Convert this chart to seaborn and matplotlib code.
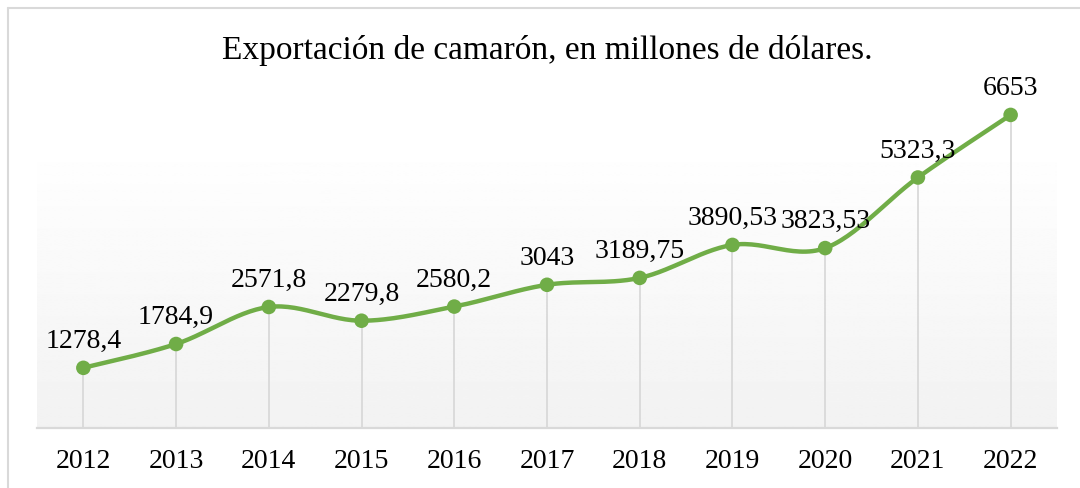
import seaborn as sns
import matplotlib.pyplot as plt
import numpy as np
from matplotlib.lines import Line2D

# data
years = ["2012", "2013", "2014", "2015", "2016", "2017", "2018", "2019", "2020", "2021", "2022"]
values = [1278.4, 1784.9, 2571.8, 2279.8, 2580.2, 3043, 3189.75, 3890.53, 3823.53, 5323.3, 6653]
labels = ["1278,4", "1784,9", "2571,8", "2279,8", "2580,2", "3043", "3189,75",
          "3890,53", "3823,53", "5323,3", "6653"]
title = "Exportación de camarón, en millones de dólares."

GREEN = "#70AD47"
GRID = "#D9D9D9"


def smooth_curve(x, y, steps=30):
    """ Catmull-Rom style bezier through the points (like a smoothed office line)"""
    x = np.asarray(x, float)
    y = np.asarray(y, float)
    pts = np.column_stack([x, y])
    out = []
    n = len(pts)
    for i in range(n - 1):
        p0 = pts[i - 1] if i > 0 else pts[i]
        p1 = pts[i]
        p2 = pts[i + 1]
        p3 = pts[i + 2] if i + 2 < n else pts[i + 1]
        c1 = p1 + (p2 - p0) / 6
        c2 = p2 - (p3 - p1) / 6
        t = np.linspace(0, 1, steps)[:, None]
        seg = ((1 - t) ** 3) * p1 + 3 * ((1 - t) ** 2) * t * c1 + 3 * (1 - t) * t ** 2 * c2 + t ** 3 * p2
        out.append(seg if i == 0 else seg[1:])
    out = np.vstack(out)
    return out[:, 0], out[:, 1]


sns.set_theme(style="white")
plt.rcParams['font.family'] = ['Liberation Serif', 'DejaVu Serif']

fig = plt.figure(figsize=(10.8, 4.88), dpi=100)
W, H = 1080, 488
ax = fig.add_axes([37 / W, 1 - 428 / H, (1057 - 37) / W, (428 - 140) / H])

xpos = np.arange(len(years))
ymax = 6120
ax.set_xlim(-0.5, len(years) - 0.5)
ax.set_ylim(0, ymax)

# gradient fill of the plot area (white on top, light gray at the bottom)
grad = np.linspace(1.0, 0.949, 256)[:, None]
grad = np.repeat(grad, 2, axis=1)
ax.imshow(grad, cmap="gray", vmin=0, vmax=1, aspect="auto",
          extent=(-0.5, len(years) - 0.5, 0, ymax), origin="upper", zorder=0)

# drop lines
ax.vlines(xpos, 0, values, color=GRID, lw=1.3, zorder=1, clip_on=False)

# smoothed line + markers
sx, sy = smooth_curve(xpos, values)
ax.plot(sx, sy, color=GREEN, lw=3.2, zorder=3, clip_on=False, solid_capstyle="round")
sns.scatterplot(x=xpos, y=values, color=GREEN, s=110, edgecolor="none", zorder=4, ax=ax, clip_on=False)

for xi, v, lab in zip(xpos, values, labels):
    ax.annotate(lab, (xi, v), xytext=(0, 10), textcoords="offset points",
                ha="center", va="bottom", fontsize=20, color="#000000",
                annotation_clip=False)

ax.set_xticks(xpos)
ax.set_xticklabels(years, fontsize=20, color="#000000")
ax.tick_params(axis="x", length=0, pad=15)
ax.set_yticks([])
for side in ["top", "left", "right"]:
    ax.spines[side].set_visible(False)
ax.spines["bottom"].set_color(GRID)
ax.spines["bottom"].set_linewidth(1.6)
ax.grid(False)

fig.text(547 / W, 1 - 50 / H, title, ha="center", va="center", fontsize=24, color="#000000")

# chart frame (only top and left edges visible in the crop)
fig.add_artist(Line2D([8 / W, 1.0], [1 - 8 / H, 1 - 8 / H], color=GRID, lw=1.5, transform=fig.transFigure))
fig.add_artist(Line2D([8 / W, 8 / W], [0, 1 - 8 / H], color=GRID, lw=1.5, transform=fig.transFigure))

fig.savefig("out.png", dpi=100, facecolor="white")
